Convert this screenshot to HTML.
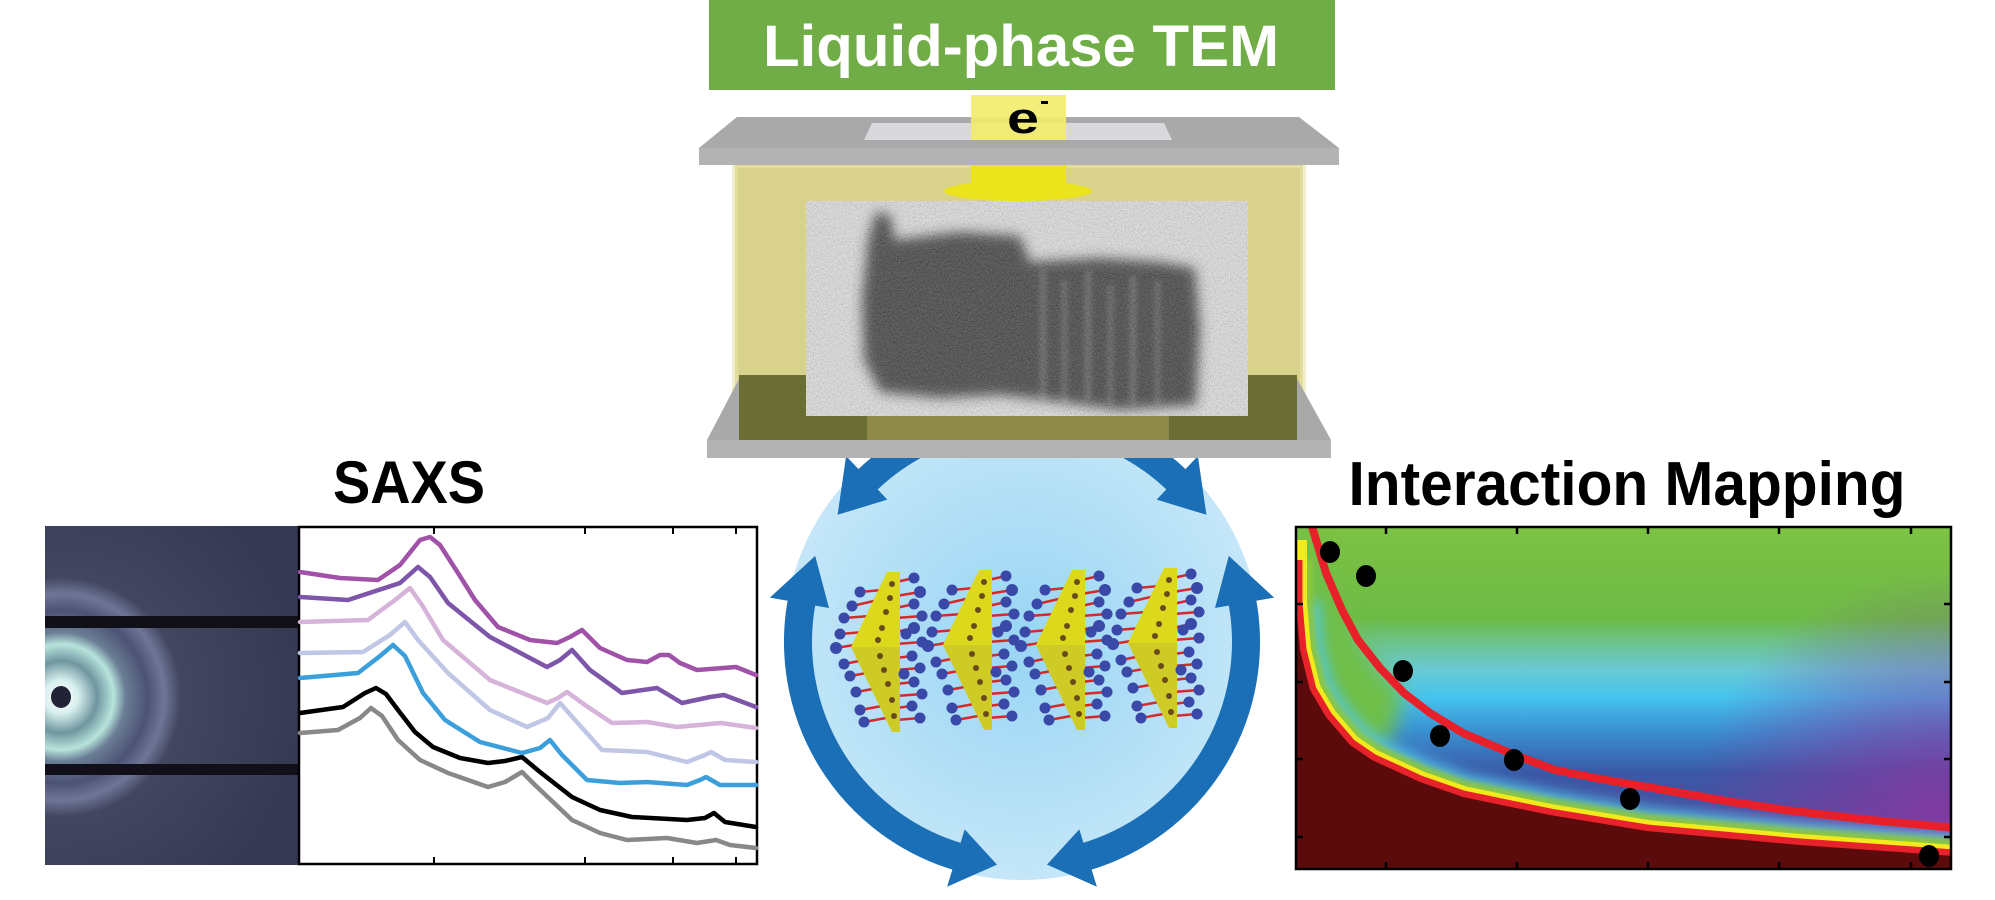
<!DOCTYPE html>
<html><head><meta charset="utf-8"><style>
html,body{margin:0;padding:0;background:#fff;}
svg{display:block;}
</style></head><body>
<svg width="1995" height="900" viewBox="0 0 1995 900" xmlns="http://www.w3.org/2000/svg">
<defs>
<filter id="noise" x="0" y="0" width="100%" height="100%">
<feTurbulence type="fractalNoise" baseFrequency="0.75" numOctaves="2" seed="4"/>
<feColorMatrix type="saturate" values="0"/>
<feComponentTransfer><feFuncR type="linear" slope="2.2" intercept="-0.45"/><feFuncG type="linear" slope="2.2" intercept="-0.45"/><feFuncB type="linear" slope="2.2" intercept="-0.45"/><feFuncA type="linear" slope="0" intercept="1"/></feComponentTransfer>
</filter>
<filter id="b6" x="-20%" y="-20%" width="140%" height="140%"><feGaussianBlur stdDeviation="6"/></filter>
<filter id="b3" x="-20%" y="-20%" width="140%" height="140%"><feGaussianBlur stdDeviation="3"/></filter>
<filter id="b10" x="-30%" y="-30%" width="160%" height="160%"><feGaussianBlur stdDeviation="10"/></filter>
<radialGradient id="circ" cx="1022" cy="642" r="238" gradientUnits="userSpaceOnUse">
<stop offset="0" stop-color="#98d5f4"/><stop offset="1" stop-color="#c4e6f8"/></radialGradient>
<radialGradient id="det" cx="61" cy="697" r="240" gradientUnits="userSpaceOnUse">
<stop offset="0" stop-color="#ffffff"/>
<stop offset="0.07" stop-color="#d8f0ee"/>
<stop offset="0.15" stop-color="#6f96a0"/>
<stop offset="0.22" stop-color="#b8e4dc"/>
<stop offset="0.27" stop-color="#6a7e95"/>
<stop offset="0.36" stop-color="#4c5274"/>
<stop offset="0.43" stop-color="#6e7698"/>
<stop offset="0.5" stop-color="#42465f"/>
<stop offset="1" stop-color="#363953"/>
</radialGradient>
<linearGradient id="imap" x1="0" y1="526" x2="0" y2="869" gradientUnits="userSpaceOnUse">
<stop offset="0" stop-color="#7dc243"/>
<stop offset="0.27" stop-color="#6dbb46"/>
<stop offset="0.33" stop-color="#6cc282"/>
<stop offset="0.42" stop-color="#69cad6"/>
<stop offset="0.5" stop-color="#45c3ee"/>
<stop offset="0.6" stop-color="#3a8fd0"/>
<stop offset="0.72" stop-color="#3a58a6"/>
<stop offset="0.85" stop-color="#4a4e9f"/>
<stop offset="1" stop-color="#7a3e9c"/>
</linearGradient>
<radialGradient id="purp" cx="1950" cy="830" r="260" gradientUnits="userSpaceOnUse">
<stop offset="0" stop-color="#8a36a0" stop-opacity="0.9"/><stop offset="1" stop-color="#8a36a0" stop-opacity="0"/></radialGradient>
<clipPath id="mapclip"><rect x="1296" y="527" width="655" height="342"/></clipPath>
<clipPath id="temclip"><rect x="806" y="201" width="442" height="215"/></clipPath>
<g id="mol">
<g stroke="#d42a2a" stroke-width="2.5">
<line x1="-40" y1="20" x2="-18" y2="18"/><line x1="-48" y1="34" x2="-22" y2="28"/><line x1="-56" y1="46" x2="-30" y2="44"/>
<line x1="-60" y1="62" x2="-36" y2="60"/><line x1="-64" y1="76" x2="-40" y2="72"/><line x1="-56" y1="92" x2="-36" y2="88"/>
<line x1="-50" y1="104" x2="-28" y2="100"/><line x1="-44" y1="120" x2="-22" y2="116"/><line x1="-40" y1="138" x2="-18" y2="134"/><line x1="-36" y1="150" x2="-14" y2="146"/>
<line x1="14" y1="6" x2="-4" y2="10"/><line x1="20" y1="20" x2="-4" y2="24"/><line x1="14" y1="32" x2="-4" y2="36"/><line x1="22" y1="44" x2="-4" y2="46"/>
<line x1="14" y1="56" x2="-4" y2="60"/><line x1="22" y1="70" x2="-4" y2="72"/><line x1="12" y1="84" x2="-4" y2="86"/><line x1="20" y1="96" x2="-4" y2="98"/>
<line x1="14" y1="110" x2="-4" y2="112"/><line x1="22" y1="122" x2="-4" y2="124"/><line x1="12" y1="134" x2="-4" y2="136"/><line x1="20" y1="146" x2="-4" y2="148"/>
</g>
<g fill="#3a48a8">
<circle cx="-40" cy="20" r="5.5"/><circle cx="-48" cy="34" r="5.5"/><circle cx="-56" cy="46" r="5.5"/><circle cx="-60" cy="62" r="5.5"/><circle cx="-64" cy="76" r="6"/>
<circle cx="-56" cy="92" r="5.5"/><circle cx="-50" cy="104" r="5.5"/><circle cx="-44" cy="120" r="5.5"/><circle cx="-40" cy="138" r="5.5"/><circle cx="-36" cy="150" r="5.5"/>
</g>
<polygon points="-13,0 0,0 0,75 -49,75" fill="#dcd81c"/>
<polygon points="-49,75 0,75 0,160 -8,160" fill="#cfcb26"/>
<g fill="#6a4a1a">
<circle cx="-8" cy="12" r="3"/><circle cx="-10" cy="26" r="3"/><circle cx="-14" cy="40" r="3"/><circle cx="-18" cy="56" r="3"/><circle cx="-22" cy="68" r="3"/>
<circle cx="-20" cy="84" r="3"/><circle cx="-16" cy="98" r="3"/><circle cx="-12" cy="112" r="3"/><circle cx="-8" cy="128" r="3"/><circle cx="-6" cy="144" r="3"/>
</g>
<g fill="#3a48a8">
<circle cx="14" cy="6" r="5.5"/><circle cx="20" cy="20" r="6"/><circle cx="14" cy="32" r="5.5"/><circle cx="22" cy="44" r="5.5"/><circle cx="14" cy="56" r="6"/>
<circle cx="22" cy="70" r="5.5"/><circle cx="12" cy="84" r="5.5"/><circle cx="20" cy="96" r="5.5"/><circle cx="14" cy="110" r="5.5"/><circle cx="22" cy="122" r="5.5"/>
<circle cx="12" cy="134" r="5.5"/><circle cx="20" cy="146" r="5.5"/><circle cx="6" cy="62" r="5.5"/><circle cx="4" cy="102" r="5.5"/>
</g>
</g>
</defs>

<!-- Center circle and arrows -->
<circle cx="1022" cy="642" r="238" fill="url(#circ)"/>
<g fill="none" stroke="#1a6fb6" stroke-width="28">
<path d="M802.1,599.3 A224,224 0 0 0 960.3,857.3"/>
<path d="M1241.9,599.3 A224,224 0 0 1 1083.7,857.3"/>
<path d="M865.3,481.9 A224,224 0 0 1 1178.7,481.9"/>
</g>
<g fill="#1a6fb6">
<polygon points="815.2,555.9 829.0,608.0 769.9,597.6"/>
<polygon points="997.0,864.6 964.7,829.4 947.1,886.8"/>
<polygon points="1228.8,555.9 1215.0,608.0 1274.1,597.6"/>
<polygon points="1047.0,864.6 1079.3,829.4 1096.9,886.8"/>
<polygon points="837.6,514.8 887.3,499.6 846.1,456.0"/>
<polygon points="1206.4,514.8 1156.7,499.6 1197.9,456.0"/>
</g>
<use href="#mol" x="900" y="572"/>
<use href="#mol" x="992" y="570"/>
<use href="#mol" x="1085" y="570"/>
<use href="#mol" x="1177" y="568"/>

<!-- Title -->
<rect x="709" y="0" width="626" height="90" fill="#71ad46"/>
<text x="1021" y="66" text-anchor="middle" font-family="Liberation Sans, sans-serif" font-weight="bold" font-size="58" fill="#fff" textLength="516" lengthAdjust="spacingAndGlyphs">Liquid-phase TEM</text>

<!-- Liquid cell -->
<rect x="735" y="165" width="568" height="275" fill="#d9d28c"/>
<rect x="735" y="165" width="568" height="275" fill="none" stroke="#e8e2a8" stroke-width="6" opacity="0.6"/>
<polygon points="737,117 1299,117 1339,148 699,148" fill="#a9a9a9"/>
<rect x="699" y="148" width="640" height="17" fill="#b3b3b3"/>
<polygon points="872,123 1164,123 1172,140 864,140" fill="#d9d9dd"/>
<rect x="971" y="95" width="95" height="45" fill="#f1ec6a" opacity="0.9"/>
<text x="1023" y="133" text-anchor="middle" font-family="Liberation Sans, sans-serif" font-weight="bold" font-size="44" fill="#000" textLength="32" lengthAdjust="spacingAndGlyphs">e</text>
<rect x="1041" y="101" width="7" height="3" fill="#000"/>
<rect x="971" y="165" width="95" height="27" fill="#ebe41c"/>
<ellipse cx="1018" cy="191" rx="74" ry="10" fill="#ebe41c"/>

<!-- Bottom plate -->
<polygon points="741,375 1295,375 1331,440 707,440" fill="#a9a9a9"/>
<rect x="739" y="375" width="558" height="65" fill="#6a6d34"/>
<rect x="867" y="416" width="302" height="24" fill="#8d8a4a"/>
<rect x="707" y="440" width="624" height="18" fill="#b3b3b3"/>

<!-- TEM image (in front of plate) -->
<g clip-path="url(#temclip)">
<rect x="806" y="201" width="442" height="215" fill="#d4d4d4"/>
<g filter="url(#b6)" fill="#262626">
<path d="M862,300 L868,240 L876,212 L890,215 L895,240 L960,232 L1020,236 L1030,262 L1100,258 L1160,262 L1195,268 L1200,330 L1196,405 L1120,410 L1060,402 L1000,395 L940,398 L880,392 L864,360 Z"/>
</g>
<g filter="url(#b3)" fill="#c8c8c8" opacity="0.25">
<rect x="1040" y="270" width="6" height="135"/><rect x="1062" y="280" width="5" height="125"/><rect x="1085" y="270" width="6" height="130"/>
<rect x="1108" y="285" width="5" height="120"/><rect x="1130" y="275" width="6" height="130"/><rect x="1155" y="280" width="5" height="125"/>
</g>
<rect x="806" y="201" width="442" height="215" filter="url(#noise)" opacity="0.3"/>
</g>

<!-- SAXS -->
<text x="409" y="503" text-anchor="middle" font-family="Liberation Sans, sans-serif" font-weight="bold" font-size="60" fill="#000" textLength="152" lengthAdjust="spacingAndGlyphs">SAXS</text>
<rect x="45" y="526" width="253" height="339" fill="url(#det)"/>
<rect x="45" y="616" width="253" height="12" fill="#111018"/>
<rect x="45" y="764" width="253" height="11" fill="#111018"/>
<ellipse cx="61" cy="697" rx="10" ry="11" fill="#232338"/>
<rect x="299" y="527" width="458" height="337" fill="#fff" stroke="#000" stroke-width="2.5"/>
<g stroke="#000" stroke-width="2">
<line x1="434" y1="527" x2="434" y2="534"/><line x1="585" y1="527" x2="585" y2="534"/><line x1="673" y1="527" x2="673" y2="534"/><line x1="736" y1="527" x2="736" y2="534"/>
<line x1="434" y1="864" x2="434" y2="857"/><line x1="585" y1="864" x2="585" y2="857"/><line x1="673" y1="864" x2="673" y2="857"/><line x1="736" y1="864" x2="736" y2="857"/>
</g>
<g fill="none" stroke-width="4.5" stroke-linejoin="round" stroke-linecap="round">
<path stroke="#888888" d="M300,733 L338,730 L360,718 L371,708 L382,716 L398,740 L420,760 L448,773 L488,787 L505,782 L522,772 L535,785 L572,820 L600,833 L627,840 L667,838 L697,843 L716,840 L730,845 L756,848"/>
<path stroke="#000000" d="M300,713 L343,707 L365,693 L376,688 L386,694 L398,710 L415,732 L433,747 L460,758 L488,763 L505,761 L522,757 L540,772 L572,797 L600,810 L632,817 L687,820 L705,818 L714,813 L725,822 L756,827"/>
<path stroke="#3b9fdb" d="M300,678 L358,673 L380,656 L393,645 L405,656 L423,693 L445,720 L480,742 L522,753 L540,748 L550,740 L562,755 L587,780 L620,783 L647,782 L687,785 L700,780 L706,777 L720,785 L756,785"/>
<path stroke="#c0c6e6" d="M300,653 L363,652 L390,635 L405,622 L418,640 L448,673 L490,710 L527,727 L548,718 L560,703 L575,720 L602,750 L647,752 L687,762 L705,755 L711,752 L725,760 L756,762"/>
<path stroke="#d6b3d8" d="M300,622 L368,620 L395,600 L410,588 L422,605 L443,640 L490,680 L547,703 L558,698 L567,692 L585,705 L612,723 L647,722 L677,727 L721,723 L756,728"/>
<path stroke="#7d55a9" d="M300,597 L348,600 L400,583 L418,567 L430,577 L448,603 L490,637 L547,667 L560,660 L572,650 L590,670 L622,693 L657,688 L672,697 L682,703 L710,697 L724,695 L756,707"/>
<path stroke="#a052a8" d="M300,572 L340,578 L378,580 L400,565 L420,540 L430,537 L440,545 L458,573 L475,600 L498,627 L530,640 L557,643 L570,637 L582,630 L600,648 L627,660 L647,662 L660,655 L669,655 L680,663 L697,670 L736,667 L756,675"/>
</g>

<!-- Interaction Mapping -->
<text x="1627" y="505" text-anchor="middle" font-family="Liberation Sans, sans-serif" font-weight="bold" font-size="62" fill="#000" textLength="557" lengthAdjust="spacingAndGlyphs">Interaction Mapping</text>
<g clip-path="url(#mapclip)">
<rect x="1296" y="527" width="655" height="342" fill="url(#imap)"/>
<rect x="1296" y="527" width="655" height="342" fill="url(#purp)"/>
<path d="M1296,527 L1310,527 L1326,573 L1342,610 L1358,640 L1380,668 L1404,693 L1390,740 L1360,760 L1330,740 L1296,700 Z" fill="#6fbf4a" filter="url(#b10)"/>
<path d="M1296,603 L1300,650 L1310,690 L1326,717 L1350,745 L1372,760 L1420,782 L1463,797 L1550,815 L1647,831 L1800,845 L1955,856" fill="none" stroke="#50c8ee" stroke-width="48" filter="url(#b6)" opacity="0.8"/>
<path d="M1296,560 L1296,603 L1300,650 L1310,690 L1326,717 L1350,745 L1372,760 L1420,782 L1463,797 L1550,815 L1647,831 L1800,845 L1955,856" fill="none" stroke="#8cc63f" stroke-width="34" filter="url(#b3)"/>
<path d="M1296,540 L1296,603 L1300,650 L1310,690 L1326,717 L1350,745 L1372,760 L1420,782 L1463,797 L1550,815 L1647,831 L1800,845 L1955,856" fill="none" stroke="#f3ea1e" stroke-width="22"/>
<path d="M1296,560 L1296,603 L1300,650 L1310,690 L1326,717 L1350,745 L1372,760 L1420,782 L1463,797 L1550,815 L1647,831 L1800,845 L1955,856" fill="none" stroke="#e8222a" stroke-width="13"/>
<path d="M1290,603 L1296,603 L1300,650 L1310,690 L1326,717 L1350,745 L1372,760 L1420,782 L1463,797 L1550,815 L1647,831 L1800,845 L1955,856 L1955,875 L1290,875 Z" fill="#5c0b0d"/>
<path d="M1310,520 L1326,573 L1342,610 L1358,640 L1380,668 L1404,693 L1430,713 L1463,733 L1510,753 L1555,770 L1600,779 L1647,787 L1720,800 L1785,810 L1870,820 L1955,828" fill="none" stroke="#e8202a" stroke-width="8"/>
<g fill="#000">
<ellipse cx="1330" cy="552" rx="10" ry="11"/><ellipse cx="1366" cy="576" rx="10" ry="11"/><ellipse cx="1403" cy="671" rx="10" ry="11"/>
<ellipse cx="1440" cy="736" rx="10" ry="11"/><ellipse cx="1514" cy="760" rx="10" ry="11"/><ellipse cx="1630" cy="799" rx="10" ry="11"/><ellipse cx="1929" cy="856" rx="10" ry="11"/>
</g>
</g>
<rect x="1296" y="527" width="655" height="342" fill="none" stroke="#000" stroke-width="2.5"/>
<g stroke="#000" stroke-width="2.5">
<line x1="1386" y1="527" x2="1386" y2="534"/><line x1="1517" y1="527" x2="1517" y2="534"/><line x1="1648" y1="527" x2="1648" y2="534"/><line x1="1779" y1="527" x2="1779" y2="534"/><line x1="1911" y1="527" x2="1911" y2="534"/>
<line x1="1386" y1="869" x2="1386" y2="862"/><line x1="1517" y1="869" x2="1517" y2="862"/><line x1="1648" y1="869" x2="1648" y2="862"/><line x1="1779" y1="869" x2="1779" y2="862"/><line x1="1911" y1="869" x2="1911" y2="862"/>
<line x1="1296" y1="604" x2="1303" y2="604"/><line x1="1296" y1="682" x2="1303" y2="682"/><line x1="1296" y1="759" x2="1303" y2="759"/><line x1="1296" y1="837" x2="1303" y2="837"/>
<line x1="1951" y1="604" x2="1944" y2="604"/><line x1="1951" y1="682" x2="1944" y2="682"/><line x1="1951" y1="759" x2="1944" y2="759"/><line x1="1951" y1="837" x2="1944" y2="837"/>
</g>
</svg>
</body></html>
